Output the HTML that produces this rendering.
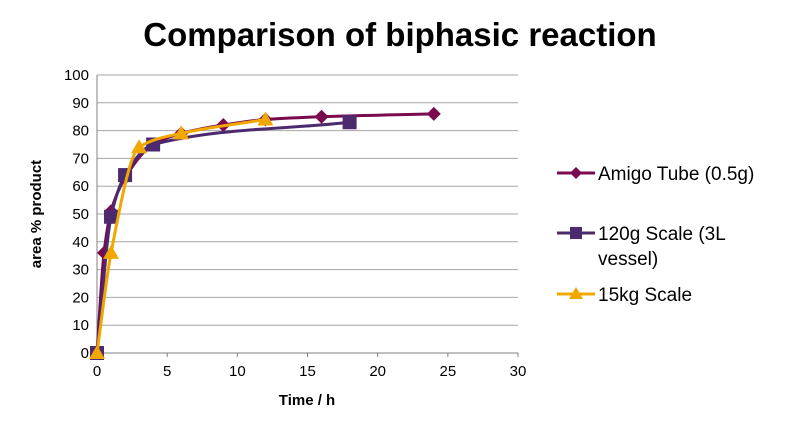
<!DOCTYPE html>
<html><head><meta charset="utf-8"><style>
body{margin:0;background:#fff;width:800px;height:436px;overflow:hidden;font-family:"Liberation Sans",Arial,sans-serif}
</style></head><body>
<svg id="chart" width="800" height="436" xmlns="http://www.w3.org/2000/svg" font-family="Liberation Sans, Arial, sans-serif">
<text x="400" y="46" text-anchor="middle" font-size="33" font-weight="bold" fill="#000">Comparison of biphasic reaction</text>
<g id="grid"></g><g id="axes"></g><g id="series"></g>
<text x="307" y="405" text-anchor="middle" font-size="15" font-weight="bold">Time / h</text>
<text transform="translate(41,214) rotate(-90)" text-anchor="middle" font-size="15" font-weight="bold">area % product</text>
<g font-size="19">
<g><line x1="557" y1="173" x2="595" y2="173" stroke="#7a0a4e" stroke-width="3"/><polygon points="576,167 582,173 576,179 570,173" fill="#7a0a4e"/><text x="598" y="180">Amigo Tube (0.5g)</text></g>
<g><line x1="557" y1="233" x2="595" y2="233" stroke="#4b2a6e" stroke-width="3"/><rect x="570" y="227" width="12" height="12" fill="#4b2a6e"/><text x="598" y="240">120g Scale (3L</text><text x="598" y="265">vessel)</text></g>
<g><line x1="557" y1="294" x2="595" y2="294" stroke="#f0a800" stroke-width="3"/><polygon points="576,287 583,299 569,299" fill="#f0a800"/><text x="598" y="301">15kg Scale</text></g>
</g>
</svg>
<script>
const xTicks=[0,5,10,15,20,25,30];
const yTicks=[0,10,20,30,40,50,60,70,80,90,100];
const amigoX=[0,0.5,1,2,4,6,9,12,16,24];
const amigoY=[0,36,51,63,75,79,82,84,85,86];
const scaleX=[0,1,2,4,18];
const scaleY=[0,49,64,75,83];
const kgX=[0,1,3,6,12];
const kgY=[0,36,74,79,84];
const NS='http://www.w3.org/2000/svg';
const X0=97,X1=518,Y0=353,Y1=75;
const sx=v=>X0+(v-0)/30*(X1-X0);
const sy=v=>Y0-(v/100)*(Y0-Y1);
function mk(t,a,p){const e=document.createElementNS(NS,t);for(const k in a)e.setAttribute(k,a[k]);p.appendChild(e);return e;}
const grid=document.getElementById('grid'),axes=document.getElementById('axes'),ser=document.getElementById('series');
yTicks.forEach(v=>{
 if(v>0){const l=mk('line',{x1:X0,x2:X1,y1:sy(v),y2:sy(v),stroke:'#a6a6a6','stroke-width':1},grid);
 
 }
 const t=mk('text',{x:X0-8,y:sy(v)+5,'text-anchor':'end','font-size':15},axes);t.textContent=v;
 
 
});
xTicks.forEach(v=>{
 const t=mk('text',{x:sx(v),y:Y0+23,'text-anchor':'middle','font-size':15},axes);t.textContent=v;
 
 
 mk('line',{x1:sx(v),x2:sx(v),y1:Y0,y2:Y0+4,stroke:'#808080'},axes);
});
const ya=mk('line',{x1:X0,x2:X0,y1:Y1,y2:Y0,stroke:'#808080'},axes);


const xa=mk('line',{x1:X0,x2:X1,y1:Y0,y2:Y0,stroke:'#808080'},axes);


// monotone cubic (Fritsch-Carlson) in pixel space
function smooth(pts){
 const n=pts.length,dx=[],s=[],m=[];
 for(let i=0;i<n-1;i++){dx[i]=pts[i+1][0]-pts[i][0];s[i]=(pts[i+1][1]-pts[i][1])/dx[i];}
 m[0]=s[0];m[n-1]=s[n-2];
 for(let i=1;i<n-1;i++){
  if(s[i-1]*s[i]<=0)m[i]=0;
  else{const w1=2*dx[i]+dx[i-1],w2=dx[i]+2*dx[i-1];m[i]=(w1+w2)/(w1/s[i-1]+w2/s[i]);}
 }
 let d=`M${pts[0][0]},${pts[0][1]}`;
 for(let i=0;i<n-1;i++){const h=dx[i]/3;
  d+=` C${pts[i][0]+h},${pts[i][1]+m[i]*h} ${pts[i+1][0]-h},${pts[i+1][1]-m[i+1]*h} ${pts[i+1][0]},${pts[i+1][1]}`;}
 return d;}
function draw(xs,ys,color,shape,name){
 const g=mk('g',{},ser);
 
 
 const pts=xs.map((x,i)=>[sx(x),sy(ys[i])]);
 mk('path',{d:smooth(pts),fill:'none',stroke:color,'stroke-width':3},g);
 pts.forEach(([x,y])=>{let m;
  if(shape==='d')m=mk('polygon',{points:`${x},${y-7} ${x+7},${y} ${x},${y+7} ${x-7},${y}`,fill:color},g);
  else if(shape==='s')m=mk('rect',{x:x-7,y:y-7,width:14,height:14,fill:color},g);
  else m=mk('polygon',{points:`${x},${y-8} ${x+8},${y+6} ${x-8},${y+6}`,fill:color},g);
  
  
 });
}
draw(amigoX,amigoY,'#7a0a4e','d','series-amigo-tube');
draw(scaleX,scaleY,'#4b2a6e','s','series-120g-scale');
draw(kgX,kgY,'#f0a800','t','series-15kg-scale');
</script>
</body></html>
